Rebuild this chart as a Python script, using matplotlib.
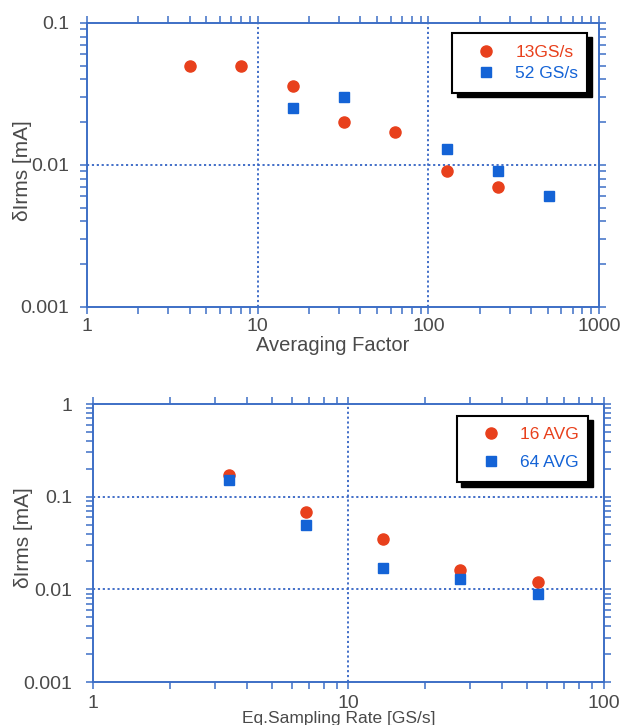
import matplotlib
matplotlib.use("Agg")
import matplotlib.pyplot as plt
from matplotlib.ticker import LogLocator, FuncFormatter, NullFormatter
from matplotlib.patches import Rectangle

plt.rcParams['font.family'] = ['Liberation Sans', 'DejaVu Sans']

# ---- data: top panel ----
avg_13 = [4, 8, 16, 32, 64, 128, 256]
val_13 = [0.050, 0.050, 0.036, 0.020, 0.017, 0.009, 0.007]
avg_52 = [16, 32, 128, 256, 512]
val_52 = [0.025, 0.030, 0.013, 0.009, 0.006]
top_labels = ["13GS/s", "52 GS/s"]

# ---- data: bottom panel ----
rate = [3.4, 6.8, 13.6, 27.2, 55.0]
val_16 = [0.17, 0.069, 0.035, 0.016, 0.012]
val_64 = [0.15, 0.050, 0.017, 0.013, 0.009]
bot_labels = ["16 AVG", "64 AVG"]

RED = '#e8401c'
BLUE = '#1463d6'
SPINE = '#3d6fc6'
GRID = '#3463c4'
TXT = '#4a4a4a'

fig = plt.figure(figsize=(6.27, 7.25), dpi=100)
ax1 = fig.add_axes([0.1388, 0.5766, 0.8166, 0.3917])
ax2 = fig.add_axes([0.1483, 0.0593, 0.8150, 0.3834])


def style(ax, xlim, ylim, xgrid, ygrid, xlabel, xl_size, xl_pos, yl_pos, ypad, xpad):
    ax.set_xscale('log')
    ax.set_yscale('log')
    ax.set_xlim(*xlim)
    ax.set_ylim(*ylim)
    for s in ax.spines.values():
        s.set_color(SPINE)
        s.set_linewidth(1.4)
    for g in xgrid:
        ax.axvline(g, color=GRID, ls=(0, (1.2, 1.5)), lw=1.3, zorder=1)
    for g in ygrid:
        ax.axhline(g, color=GRID, ls=(0, (1.2, 1.5)), lw=1.3, zorder=1)
    for axis in (ax.xaxis, ax.yaxis):
        axis.set_major_locator(LogLocator(base=10, numticks=10))
        axis.set_minor_locator(LogLocator(base=10, subs=range(2, 10), numticks=20))
        axis.set_minor_formatter(NullFormatter())
        axis.set_major_formatter(FuncFormatter(lambda v, p: f"{v:g}"))
    ax.tick_params(which='both', direction='out', color=SPINE, width=1.1,
                   top=True, right=True, labelcolor=TXT, labelsize=14)
    ax.tick_params(which='major', length=5)
    ax.tick_params(which='minor', length=5)
    ax.tick_params(axis='y', which='major', pad=ypad)
    ax.tick_params(axis='x', which='major', pad=xpad)
    ax.set_xlabel(xlabel, fontsize=xl_size, color=TXT)
    ax.set_ylabel('δIrms [mA]', fontsize=15, color=TXT)
    ax.xaxis.set_label_coords(*xl_pos)
    ax.yaxis.set_label_coords(*yl_pos)


def legend_box(ax, x0, y0, x1, y1, handles, labels, colors, anchor, spacing):
    fw = ax.get_window_extent().width
    fh = ax.get_window_extent().height
    dx = 4.5 / fw
    dy = 4.5 / fh
    ax.add_patch(Rectangle((x0 + dx, y0 - dy), x1 - x0, y1 - y0, transform=ax.transAxes,
                           facecolor='black', edgecolor='black', zorder=5))
    ax.add_patch(Rectangle((x0, y0), x1 - x0, y1 - y0, transform=ax.transAxes,
                           facecolor='white', edgecolor='black', lw=1.5, zorder=6))
    leg = ax.legend(handles, labels, loc='center left', bbox_to_anchor=anchor,
                    frameon=False, fontsize=12.5, handlelength=0.8,
                    handletextpad=1.3, labelspacing=spacing, borderpad=0,
                    borderaxespad=0)
    for t, c in zip(leg.get_texts(), colors):
        t.set_color(c)
    leg.set_zorder(7)


# ---- top panel ----
h1, = ax1.plot(avg_13, val_13, 'o', color=RED, ms=8, mec=RED, zorder=3, clip_on=False)
h2, = ax1.plot(avg_52, val_52, 's', color=BLUE, ms=7.5, mec=BLUE, zorder=3, clip_on=False)
style(ax1, (1, 1000), (0.001, 0.1), [10, 100], [0.01], 'Averaging Factor', 14.5,
      (0.48, -0.104), (-0.107, 0.48), 8, 3)
legend_box(ax1, 0.713, 0.754, 0.977, 0.965, [h1, h2], top_labels, [RED, BLUE],
           (0.765, 0.86), 0.35)

# ---- bottom panel ----
h3, = ax2.plot(rate, val_16, 'o', color=RED, ms=8, mec=RED, zorder=3)
h4, = ax2.plot(rate, val_64, 's', color=BLUE, ms=7.5, mec=BLUE, zorder=3)
style(ax2, (1, 100), (0.001, 1), [10], [0.1, 0.01], 'Eq.Sampling Rate [GS/s]', 12.5,
      (0.481, -0.103), (-0.117, 0.52), 10, 4)
legend_box(ax2, 0.712, 0.719, 0.969, 0.957, [h3, h4], bot_labels, [RED, BLUE],
           (0.765, 0.84), 0.75)

fig.savefig('out.png', dpi=100)
